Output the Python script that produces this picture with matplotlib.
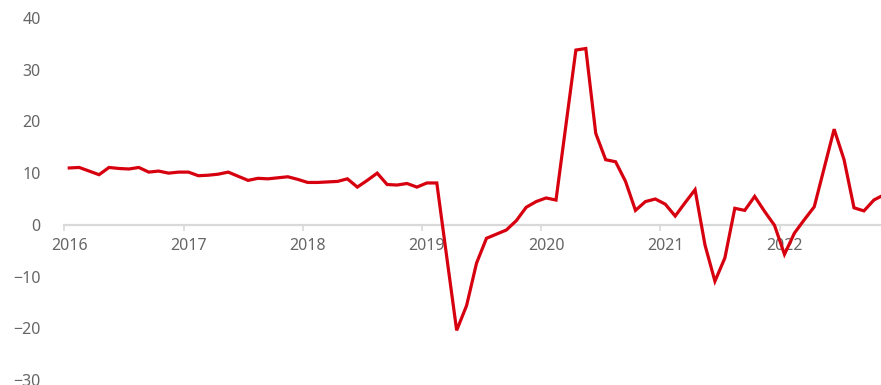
import matplotlib
matplotlib.use("Agg")
import matplotlib.pyplot as plt
import matplotlib.transforms as mtransforms
import numpy as np

# Monthly values, Jan 2016 .. Nov 2022
values = [
    11.0, 11.1, 10.4, 9.7, 11.1, 10.9, 10.8, 11.1, 10.2, 10.4, 10.0, 10.2,   # 2016
    10.2, 9.5, 9.6, 9.8, 10.2, 9.4, 8.6, 9.0, 8.9, 9.1, 9.3, 8.8,          # 2017
    8.2, 8.2, 8.3, 8.4, 8.9, 7.3, 8.6, 10.0, 7.8, 7.7, 8.0, 7.3,           # 2018
    8.1, 8.1, -6.2, -20.4, -15.6, -7.4, -2.6, -1.8, -1.0, 0.8, 3.4, 4.5,   # 2019
    5.2, 4.8, 19.3, 33.8, 34.1, 17.7, 12.6, 12.2, 8.4, 2.8, 4.5, 5.0,      # 2020
    4.0, 1.7, 4.3, 6.8, -3.9, -10.9, -6.4, 3.2, 2.8, 5.5, 2.6, -0.1,       # 2021
    -5.7, -1.6, 1.0, 3.5, 11.0, 18.5, 12.6, 3.3, 2.7, 4.8, 5.8,            # 2022
]
start_year = 2016
year_ticks = [2016, 2017, 2018, 2019, 2020, 2021, 2022]
year_labels = ["2016", "2017", "2018", "2019", "2020", "2021", "2022"]
y_ticks = [-30, -20, -10, 0, 10, 20, 30, 40]

x = start_year + (np.arange(len(values)) + 0.5) / 12.0

plt.rcParams['font.family'] = ['Noto Sans', 'DejaVu Sans']

fig = plt.figure(figsize=(8.81, 3.85), dpi=100)
ax = fig.add_axes([64.3 / 881, 5 / 385, (881 - 64.3) / 881, 362 / 385])

ax.plot(x, values, color='#d7000f', linewidth=2.3, solid_joinstyle='miter', clip_on=True)

ax.set_xlim(2016.0, 2016.0 + (881 - 64.3) / 119.2)
ax.set_ylim(-30, 40)

for s in ['top', 'right', 'left']:
    ax.spines[s].set_visible(False)
ax.spines['bottom'].set_position(('data', 0))
ax.spines['bottom'].set_color('#d9d9d9')
ax.spines['bottom'].set_linewidth(1.6)
ax.spines['bottom'].set_zorder(0)

ax.set_xticks(year_ticks)
ax.set_xticklabels(year_labels)
ax.set_yticks(y_ticks)

ax.tick_params(axis='x', direction='out', length=4.5, width=1.2, color='#d9d9d9',
               labelsize=11.5, labelcolor='#666666', pad=5)
ax.tick_params(axis='y', length=0, labelsize=11.5, labelcolor='#666666', pad=17)

offset = mtransforms.ScaledTranslation(5 / 100, 0, fig.dpi_scale_trans)
for lab in ax.get_xticklabels():
    lab.set_transform(lab.get_transform() + offset)

fig.savefig('out.png', dpi=100)
